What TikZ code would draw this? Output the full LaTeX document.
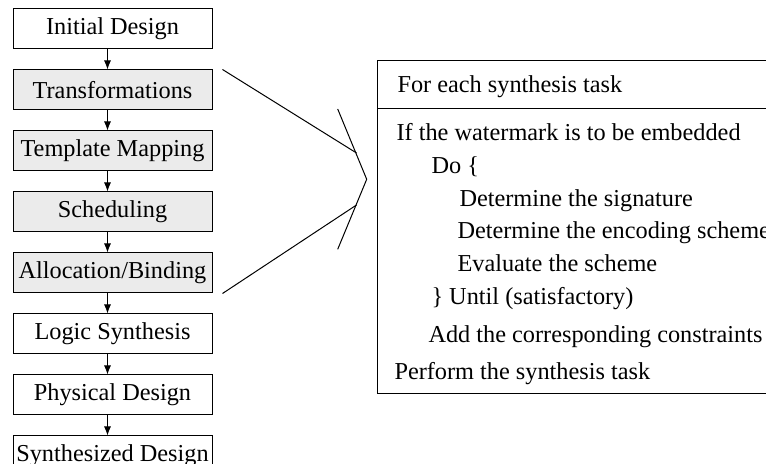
\documentclass[tikz,border=0pt]{standalone}
\usepackage{fontspec}
\setmainfont{Liberation Serif}
\usetikzlibrary{positioning,arrows.meta}
\tikzset{
  stage/.style={draw,minimum width=99.5pt,minimum height=20pt,inner sep=1pt,font=\fontsize{12.15}{14}\selectfont},
  shaded/.style={stage,fill=black!8},
  codeline/.style={anchor=base west,inner sep=0pt,font=\fontsize{12.15}{14}\selectfont},
  flow/.style={-{Latex[length=4.5pt,width=3.5pt]}}
}
\begin{document}
\begin{tikzpicture}[x=0.5pt,y=-0.5pt,node distance=10pt,line width=0.5pt]
\useasboundingbox (0,0) rectangle (766,464);
\clip (0,0) rectangle (766,464);
% design flow
\node[stage] (init) at (112.5,29) {Initial Design};
\node[shaded,below=of init] (trans) {Transformations};
\node[shaded,below=of trans] (templ) {Template Mapping};
\node[shaded,below=of templ] (sched) {Scheduling};
\node[shaded,below=of sched] (alloc) {Allocation/Binding};
\node[stage,below=of alloc] (logic) {Logic Synthesis};
\node[stage,below=of logic] (phys) {Physical Design};
\node[stage,below=of phys] (synth) {Synthesized Design};
\foreach \a/\b in {init/trans,trans/templ,templ/sched,sched/alloc,alloc/logic,logic/phys,phys/synth}
  \draw[flow] ([xshift=-2.5pt]\a.south) -- ([xshift=-2.5pt]\b.north);
% bracket
\coordinate (btop) at (337.7,109);
\coordinate (btip) at (366.7,179.3);
\coordinate (bbot) at (337.7,249.3);
\coordinate (bup) at (356.5,153);
\coordinate (bdown) at (356.5,205);
\draw (btop) -- (btip) -- (bbot);
\draw ([xshift=5pt]trans.north east) -- (bup);
\draw ([xshift=5pt]alloc.south east) -- (bdown);
% watermarking procedure
\draw (800,61) -- (377,61) -- (377,394) -- (800,394);
\draw (377,109) -- (800,109);
\node[codeline] (task) at (397,93) {For each synthesis task};
\node[codeline] (ifw) at (396,141) {If the watermark is to be embedded};
\node[codeline] (doloop) at (431,174) {Do \{};
\node[codeline] (sig) at (459,207) {Determine the signature};
\node[codeline] (enc) at (457,239) {Determine the encoding scheme};
\node[codeline] (eval) at (457,272) {Evaluate the scheme};
\node[codeline] (until) at (431,305) {\} Until (satisfactory)};
\node[codeline] (add) at (428,343) {Add the corresponding constraints};
\node[codeline] (perform) at (394,380) {Perform the synthesis task};
\end{tikzpicture}
\end{document}
